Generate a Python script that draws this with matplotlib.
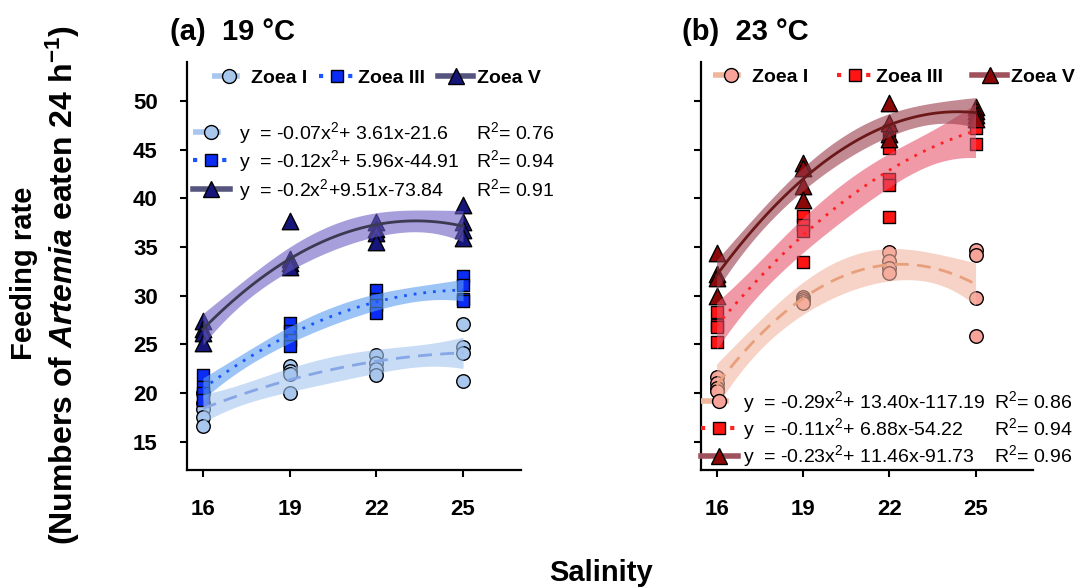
import numpy as np
import matplotlib.pyplot as plt
from matplotlib.lines import Line2D

plt.rcParams['font.family'] = ['Liberation Sans', 'DejaVu Sans']
plt.rcParams['mathtext.fontset'] = 'custom'
plt.rcParams['mathtext.default'] = 'regular'
plt.rcParams['mathtext.it'] = 'Liberation Sans:italic:bold'

salinity = [16, 19, 22, 25]
stages = ['Zoea I', 'Zoea III', 'Zoea V']

# (a) 19 °C, replicate feeding rates per salinity
a_zoea1 = [[20.0, 19.0, 18.4, 17.5, 16.6], [22.8, 22.3, 22.0, 20.0],
           [23.9, 23.1, 22.5, 21.9], [27.1, 24.7, 24.1, 21.2]]
a_zoea3 = [[21.9, 20.6, 20.0, 19.3], [27.2, 26.4, 25.5, 24.8],
           [30.6, 29.7, 29.0, 28.2], [32.0, 31.1, 29.7, 29.5]]
a_zoea5 = [[27.4, 26.6, 26.2, 25.1], [37.7, 33.8, 33.4, 33.0],
           [37.6, 36.9, 36.4, 35.5], [39.3, 37.6, 36.7, 35.9]]

# (b) 23 °C
b_zoea1 = [[21.7, 21.0, 20.5, 20.2], [29.9, 29.7, 29.5, 29.3],
           [34.5, 33.6, 32.8, 32.3], [34.7, 34.2, 29.8, 25.9]]
b_zoea3 = [[28.3, 27.0, 26.8, 25.2], [38.2, 37.3, 36.6, 33.5],
           [46.9, 45.2, 42.0, 41.4, 38.1], [48.3, 47.2, 45.6]]
b_zoea5 = [[34.4, 32.2, 31.8, 30.0], [43.6, 43.1, 41.3, 39.8],
           [49.8, 47.7, 46.6, 46.1], [49.4, 49.0, 48.6, 48.2]]

a_equations = ['y  = -0.07x$^2$+ 3.61x-21.6', 'y  = -0.12x$^2$+ 5.96x-44.91',
               'y  = -0.2x$^2$+9.51x-73.84']
a_r2 = ['0.76', '0.94', '0.91']
b_equations = ['y  = -0.29x$^2$+ 13.40x-117.19', 'y  = -0.11x$^2$+ 6.88x-54.22',
               'y  = -0.23x$^2$+ 11.46x-91.73']
b_r2 = ['0.86', '0.94', '0.96']

markers = ['o', 's', '^']
msizes = [95, 70, 140]
hsizes = [10, 9, 12]
linestyles = [(0, (5, 3)), (0, (1, 2.5)), '-']

a_style = dict(face=['#a9c6ec', '#0a2cf5', '#15157a'],
               line=['#86a6e6', '#1a55ff', '#3a3a52'],
               band=['#a4c6f0', '#5b9df2', '#6b5fc4'],
               handle=['#a8c6f0', '#1a55ff', '#55557e'])
b_style = dict(face=['#f8a39a', '#ff1414', '#8a0808'],
               line=['#e8a07c', '#ff2222', '#6a1818'],
               band=['#f3b4a0', '#e6556d', '#9a3c4c'],
               handle=['#f0b69c', '#ff2222', '#a0525c'])


def quad_fit(x, y, xs):
    X = np.vstack([x ** 2, x, np.ones_like(x)]).T
    beta = np.linalg.lstsq(X, y, rcond=None)[0]
    resid = y - X @ beta
    s2 = resid @ resid / (len(y) - 3)
    cov = s2 * np.linalg.inv(X.T @ X)
    Xs = np.vstack([xs ** 2, xs, np.ones_like(xs)]).T
    se = np.sqrt(np.einsum('ij,jk,ik->i', Xs, cov, Xs))
    return Xs @ beta, 2.16 * se


def draw_panel(ax, groups, style, equations, top_anchor, eq_anchor, colsp, eq_pad, eq_space):
    xs = np.linspace(min(salinity), max(salinity), 120)
    for i, reps in enumerate(groups):
        x = np.concatenate([[s] * len(r) for s, r in zip(salinity, reps)]).astype(float)
        y = np.concatenate(reps)
        ax.scatter(x, y, marker=markers[i], s=msizes[i], facecolor=style['face'][i],
                   edgecolor='black', linewidth=1, zorder=2)
        fit, ci = quad_fit(x, y, xs)
        ax.fill_between(xs, fit - ci, fit + ci, color=style['band'][i], alpha=0.6,
                        linewidth=0, zorder=3)
        ax.plot(xs, fit, color=style['line'][i], lw=2, ls=linestyles[i], zorder=4)

    handles = [Line2D([], [], color=style['handle'][i], lw=4 if i != 1 else 3,
                      ls=linestyles[i], marker=markers[i], markersize=hsizes[i],
                      markerfacecolor=style['face'][i], markeredgecolor='black')
               for i in range(3)]
    top = ax.legend(handles, stages, loc='center left', bbox_to_anchor=top_anchor, ncol=3,
                    frameon=False, prop={'weight': 'bold', 'size': 14}, handlelength=1.8,
                    handletextpad=0.2, columnspacing=colsp, borderpad=0, borderaxespad=0)
    ax.add_artist(top)
    eq = ax.legend(handles, equations, loc='center left', bbox_to_anchor=eq_anchor,
                   frameon=False, fontsize=14, handlelength=1.9, handletextpad=eq_pad,
                   labelspacing=eq_space, borderpad=0, borderaxespad=0)

    ax.set_xlim(15.45, 27.0)
    ax.set_ylim(12.1, 54.0)
    ax.set_xticks(salinity)
    ax.set_yticks(range(15, 51, 5))
    for side in ['top', 'right']:
        ax.spines[side].set_visible(False)
    for side in ['left', 'bottom']:
        ax.spines[side].set_linewidth(1.6)
    ax.tick_params(direction='out', length=5, width=1.5, pad=16, labelsize=16)
    for lab in ax.get_xticklabels() + ax.get_yticklabels():
        lab.set_fontweight('bold')
    return eq


def add_r2(ax, eq, r2, r2_x):
    # put each R² on the baseline of its equation row
    for t, v in zip(eq.get_texts(), r2):
        disp = t.get_transform().transform(t.get_position())
        y_ax = ax.transAxes.inverted().transform(disp)[1]
        ax.text(r2_x, y_ax, 'R$^2$= ' + v, transform=ax.transAxes, fontsize=14,
                va='baseline', ha='left')


fig = plt.figure(figsize=(10.91, 5.87), dpi=100)
ax_a = fig.add_axes([0.1714, 0.1993, 0.306, 0.695])
ax_b = fig.add_axes([0.6423, 0.1993, 0.3046, 0.695])

eq_a = draw_panel(ax_a, [a_zoea1, a_zoea3, a_zoea5], a_style, a_equations,
                  (0.074, 0.961), (0.018, 0.757), 0.65, 0.45, 0.14)
eq_b = draw_panel(ax_b, [b_zoea1, b_zoea3, b_zoea5], b_style, b_equations,
                  (0.037, 0.964), (0.0, 0.1005), 1.5, 0.25, 0.08)
ax_b.tick_params(labelleft=False)

fig.text(170 / 1091, 0.932, '(a)  19 °C', fontsize=21, fontweight='bold', va='baseline')
fig.text(682 / 1091, 0.932, '(b)  23 °C', fontsize=21, fontweight='bold', va='baseline')
fig.text(24 / 1091, 0.535, 'Feeding rate', rotation=90, fontsize=21, fontweight='bold',
         ha='center', va='center')
fig.text(63 / 1091, 0.514, '(Numbers of $\\mathit{Artemia}$ eaten 24 h$^{-1}$)', rotation=90,
         fontsize=23, fontweight='bold', ha='center', va='center')
fig.text(601 / 1091, 0.0102, 'Salinity', fontsize=21, fontweight='bold', ha='center',
         va='baseline')

fig.canvas.draw()
add_r2(ax_a, eq_a, a_r2, 0.865)
add_r2(ax_b, eq_b, b_r2, 0.883)

fig.savefig('out.png', dpi=100)
